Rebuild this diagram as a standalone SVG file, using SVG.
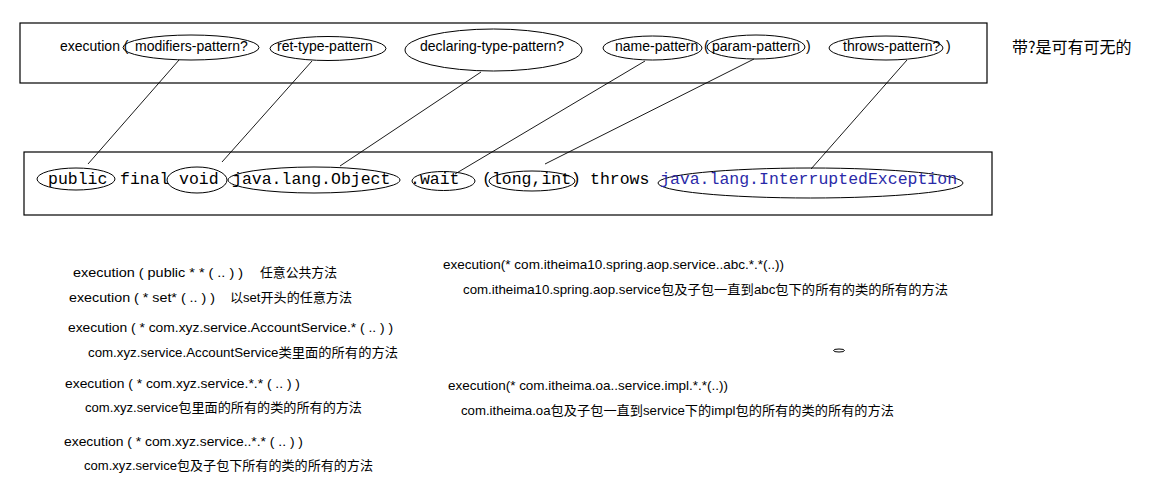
<svg xmlns="http://www.w3.org/2000/svg" width="1159" height="484" viewBox="0 0 1159 484">
<style>
.box{fill:none;stroke:#000;stroke-width:1.2}
.ell{fill:none;stroke:#000;stroke-width:1}
.con line{stroke:#000;stroke-width:0.9}
.t{font-family:"Liberation Sans","Noto Sans CJK SC",sans-serif;font-size:14px;fill:#000}
.m{font-family:"Liberation Mono",monospace;font-size:16.5px;fill:#000}
.mb{fill:#2a2aa8}
.n{font-family:"Liberation Sans","Noto Sans CJK SC",sans-serif;font-size:13px;fill:#000}
.cjk{font-family:"Noto Sans CJK SC",sans-serif;font-size:16px;fill:#000}
</style>
<rect width="1159" height="484" fill="#fff"/>
<g id="top-box">
<rect class="box" x="20" y="23" width="967" height="60"/>
<text class="t" x="60" y="51">execution (</text>
</g>
<g id="modifiers-pattern">
<ellipse class="ell" cx="191" cy="47.5" rx="68" ry="12.5"/>
<text class="t" x="135" y="51">modifiers-pattern?</text>
</g>
<g id="ret-type-pattern">
<ellipse class="ell" cx="328" cy="48.5" rx="58" ry="12"/>
<text class="t" x="277" y="51">ret-type-pattern</text>
</g>
<g id="declaring-type-pattern">
<ellipse class="ell" cx="493.5" cy="50" rx="88.5" ry="21"/>
<text class="t" x="420" y="51">declaring-type-pattern?</text>
</g>
<g id="name-pattern">
<ellipse class="ell" cx="652.5" cy="48" rx="49.5" ry="12"/>
<text class="t" x="615" y="51">name-pattern</text>
</g>
<g id="param-pattern">
<text class="t" x="704" y="51">(</text>
<ellipse class="ell" cx="756" cy="47" rx="49" ry="12"/>
<text class="t" x="712" y="51">param-pattern</text>
<text class="t" x="806" y="51">)</text>
</g>
<g id="throws-pattern">
<ellipse class="ell" cx="886" cy="48" rx="57" ry="12"/>
<text class="t" x="843" y="51">throws-pattern?</text>
<text class="t" x="946" y="51">)</text>
</g>
<g id="note">
<text class="cjk" x="1012" y="53">带?是可有可无的</text>
</g>
<g id="bottom-box">
<rect class="box" x="24" y="152" width="968" height="63"/>
<text class="m" x="120" y="184">final</text>
<text class="m" x="590" y="184">throws</text>
</g>
<g id="public">
<ellipse class="ell" cx="76" cy="179" rx="39" ry="11"/>
<text class="m" x="48" y="184">public</text>
</g>
<g id="void">
<ellipse class="ell" cx="197" cy="180" rx="30" ry="13"/>
<text class="m" x="179" y="184">void</text>
</g>
<g id="object">
<ellipse class="ell" cx="314" cy="180" rx="86" ry="13"/>
<text class="m" x="232" y="184">java.lang.Object</text>
</g>
<g id="wait">
<ellipse class="ell" cx="443.5" cy="181" rx="31.5" ry="9.5"/>
<text class="m" x="410" y="184">.wait</text>
</g>
<g id="params">
<ellipse class="ell" cx="532" cy="181" rx="43" ry="10"/>
<text class="m" x="482" y="184">(long,int)</text>
</g>
<g id="exception">
<ellipse class="ell" cx="810.5" cy="183" rx="152.5" ry="15"/>
<text class="m mb" x="660" y="184">java.lang.InterruptedException</text>
</g>
<g id="connectors" class="con">
<line x1="179" y1="60" x2="88" y2="164"/>
<line x1="312" y1="61" x2="222" y2="162"/>
<line x1="481" y1="72" x2="340" y2="166"/>
<line x1="645" y1="61" x2="455" y2="174"/>
<line x1="754" y1="59" x2="545" y2="164"/>
<line x1="907" y1="60" x2="811" y2="169"/>
</g>
<g id="examples">
<text class="n" x="73" y="277" textLength="170" lengthAdjust="spacingAndGlyphs">execution ( public * * ( .. ) )</text>
<text class="n" x="260" y="277" textLength="77" lengthAdjust="spacingAndGlyphs">任意公共方法</text>
<text class="n" x="69" y="302" textLength="146" lengthAdjust="spacingAndGlyphs">execution ( * set* ( .. ) )</text>
<text class="n" x="230" y="302" textLength="122" lengthAdjust="spacingAndGlyphs">以set开头的任意方法</text>
<text class="n" x="68" y="332" textLength="325" lengthAdjust="spacingAndGlyphs">execution ( * com.xyz.service.AccountService.* ( .. ) )</text>
<text class="n" x="88" y="357" textLength="310" lengthAdjust="spacingAndGlyphs">com.xyz.service.AccountService类里面的所有的方法</text>
<text class="n" x="65" y="388" textLength="235" lengthAdjust="spacingAndGlyphs">execution ( * com.xyz.service.*.* ( .. ) )</text>
<text class="n" x="85" y="412" textLength="277" lengthAdjust="spacingAndGlyphs">com.xyz.service包里面的所有的类的所有的方法</text>
<text class="n" x="64" y="446" textLength="239" lengthAdjust="spacingAndGlyphs">execution ( * com.xyz.service..*.* ( .. ) )</text>
<text class="n" x="84" y="470" textLength="289" lengthAdjust="spacingAndGlyphs">com.xyz.service包及子包下所有的类的所有的方法</text>
<text class="n" x="443" y="269" textLength="341" lengthAdjust="spacingAndGlyphs">execution(* com.itheima10.spring.aop.service..abc.*.*(..))</text>
<text class="n" x="463" y="294" textLength="485" lengthAdjust="spacingAndGlyphs">com.itheima10.spring.aop.service包及子包一直到abc包下的所有的类的所有的方法</text>
<text class="n" x="448" y="390" textLength="280" lengthAdjust="spacingAndGlyphs">execution(* com.itheima.oa..service.impl.*.*(..))</text>
<text class="n" x="461" y="415" textLength="433" lengthAdjust="spacingAndGlyphs">com.itheima.oa包及子包一直到service下的impl包的所有的类的所有的方法</text>
</g>
<g id="mark">
<ellipse class="ell" cx="839" cy="350.5" rx="5.5" ry="1.5"/>
</g>
</svg>
